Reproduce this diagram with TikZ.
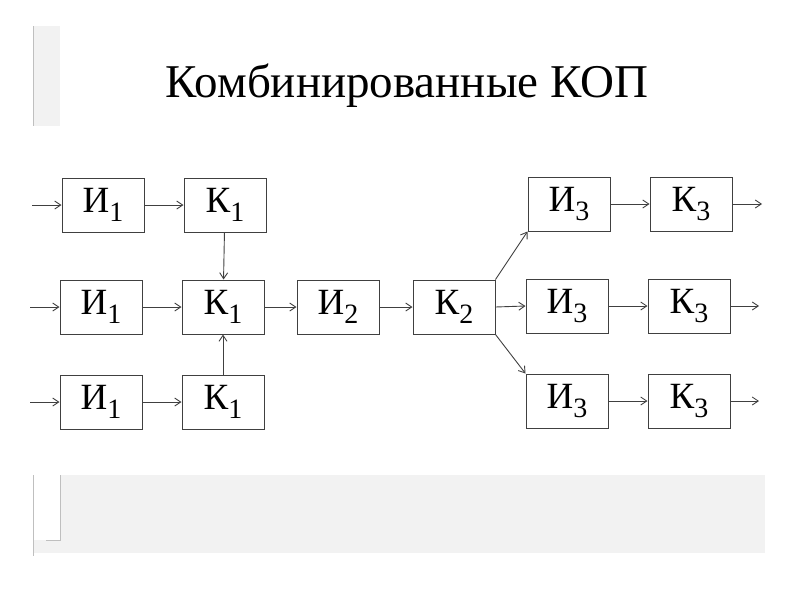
\documentclass[tikz,border=0pt]{standalone}
\usepackage{fontspec}
\setmainfont{Liberation Serif}
\usetikzlibrary{arrows.meta}

\tikzset{
  blok/.style={draw=black!75, line width=1pt, minimum width=82pt, minimum height=54pt,
    inner sep=0pt, font=\fontsize{37}{37}\selectfont},
  strel/.style={draw=black!75, line width=0.9pt, -{Straight Barb[length=6pt,width=8pt]}},
  fon/.style={fill=black!5, draw=none},
}
\newcommand{\ind}[1]{\raisebox{-9pt}{\fontsize{28}{28}\selectfont #1}}

\begin{document}
\begin{tikzpicture}[x=1pt, y=-1pt]
      \useasboundingbox (0,0) rectangle (800,600);

      % slide background
      \fill [fon] (33,26) rectangle (60,126);
      \draw [black!25] (33,26) -- (33,126);
      \fill [fon] (33,475) rectangle (765,553);
      \fill [white] (34,475) rectangle (60,540);
      \draw [black!25] (60,475) -- (60,540) -- (46,540);
      \draw [black!25] (33,475) -- (33,556);

      \node [anchor=base, font=\fontsize{47}{47}\selectfont] (title) at (407,97) {Комбинированные КОП};

      \node [blok] (i1a) at (103,205) {И\ind{1}};
      \node [blok] (k1a) at (225,205) {К\ind{1}};
      \node [blok] (i1b) at (101,307) {И\ind{1}};
      \node [blok] (k1b) at (223,307) {К\ind{1}};
      \node [blok] (i1c) at (101,402) {И\ind{1}};
      \node [blok] (k1c) at (223,402) {К\ind{1}};

      \node [blok] (i2) at (338,307) {И\ind{2}};
      \node [blok] (k2) at (454,307) {К\ind{2}};

      \node [blok] (i3a) at (569,204) {И\ind{3}};
      \node [blok] (k3a) at (691,204) {К\ind{3}};
      \node [blok] (i3b) at (567,306) {И\ind{3}};
      \node [blok] (k3b) at (689,306) {К\ind{3}};
      \node [blok] (i3c) at (567,401) {И\ind{3}};
      \node [blok] (k3c) at (689,401) {К\ind{3}};

      \coordinate (in1) at (32,205);
      \coordinate (in2) at (30,307);
      \coordinate (in3) at (30,402);
      \coordinate (out1) at (762,204);
      \coordinate (out2) at (759,306);
      \coordinate (out3) at (759,401);

      \draw [strel] (in1)--(i1a);
      \draw [strel] (in2)--(i1b);
      \draw [strel] (in3)--(i1c);
      \draw [strel] (i1a)--(k1a);
      \draw [strel] (i1b)--(k1b);
      \draw [strel] (i1c)--(k1c);
      \draw [strel] (k1a)--(k1b);
      \draw [strel] (k1c)--(k1b);
      \draw [strel] (k1b)--(i2);
      \draw [strel] (i2)--(k2);

      \draw [strel] (k2.north east)--(i3a.south west);
      \draw [strel] (k2.east)--(i3b.west);
      \draw [strel] (k2.south east)--(i3c.north west);

      \draw [strel] (i3a)--(k3a);
      \draw [strel] (i3b)--(k3b);
      \draw [strel] (i3c)--(k3c);
      \draw [strel] (k3a)--(out1);
      \draw [strel] (k3b)--(out2);
      \draw [strel] (k3c)--(out3);

\end{tikzpicture}
\end{document}
